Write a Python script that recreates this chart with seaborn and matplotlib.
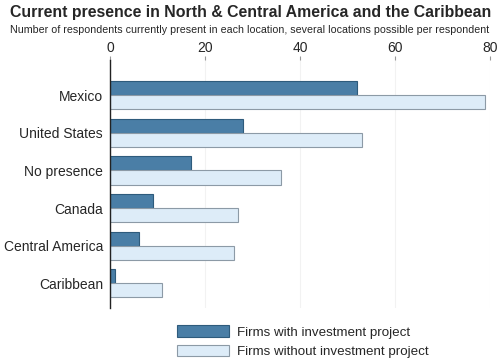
import pandas as pd
import matplotlib.pyplot as plt
import seaborn as sns

# Data
locations = ["Mexico", "United States", "No presence", "Canada", "Central America", "Caribbean"]
with_project = [52, 28, 17, 9, 6, 1]
without_project = [79, 53, 36, 27, 26, 11]
series_names = ["Firms with investment project", "Firms without investment project"]
x_ticks = [0, 20, 40, 60, 80]

df = pd.DataFrame({
    "Location": locations * 2,
    "Respondents": with_project + without_project,
    "Group": [series_names[0]] * len(locations) + [series_names[1]] * len(locations),
})

sns.set_style("white")
plt.rcParams['font.family'] = ['Liberation Sans', 'DejaVu Sans']

fig = plt.figure(figsize=(5, 3.6), dpi=100)
ax = fig.add_axes([0.22, 0.144, 0.76, 0.689])

colors = ["#4a7ea6", "#ddecf8"]
edges = ["#2e5b7c", "#8c9aa6"]
sns.barplot(data=df, y="Location", x="Respondents", hue="Group", orient="h",
            palette=colors, width=0.75, ax=ax, legend=False, saturation=1)

# edge colours per series
n = len(locations)
for i, bar in enumerate(ax.patches[:2 * n]):
    bar.set_edgecolor(edges[i // n])
    bar.set_linewidth(0.8)

ax.set_xlim(0, 80)
ax.set_ylim(5.66, -0.93)
ax.set_xticks(x_ticks)
ax.xaxis.tick_top()
ax.tick_params(axis="x", labelsize=10, length=3, color="#999999", pad=1, direction="out")
ax.tick_params(axis="y", labelsize=10, length=0, pad=5)
ax.set_xlabel("")
ax.set_ylabel("")
ax.grid(axis="x", color="#f2f2f2", linewidth=0.8)
ax.set_axisbelow(True)
for side in ["top", "right", "bottom"]:
    ax.spines[side].set_visible(False)
ax.spines["left"].set_color("#222222")
ax.spines["left"].set_linewidth(1.0)

fig.text(0.502, 0.965, "Current presence in North & Central America and the Caribbean",
         ha="center", va="center", fontsize=11.4, fontweight="bold")
fig.text(0.5, 0.918, "Number of respondents currently present in each location, several locations possible per respondent",
         ha="center", va="center", fontsize=7.7)

handles = [plt.Rectangle((0, 0), 1, 1, facecolor=colors[i], edgecolor=edges[i], linewidth=0.8)
           for i in range(2)]
fig.legend(handles, series_names, loc="upper left", bbox_to_anchor=(0.343, 0.112),
           frameon=False, fontsize=9.6, handlelength=3.9, handleheight=1.0,
           handletextpad=0.6, labelspacing=0.45, borderaxespad=0)

fig.savefig("out.png", dpi=100)
